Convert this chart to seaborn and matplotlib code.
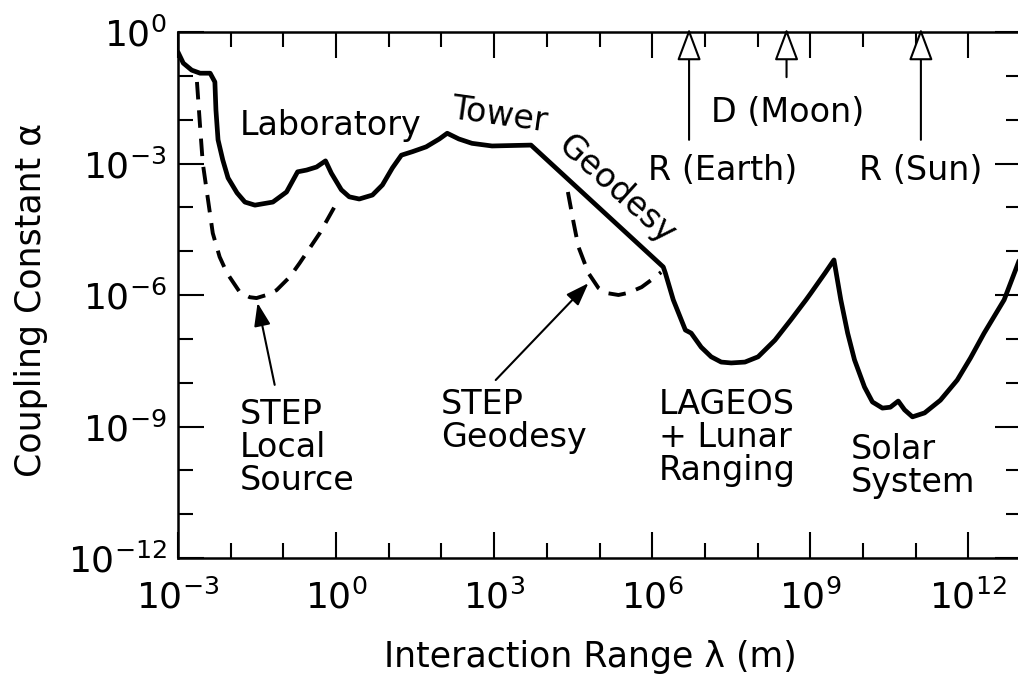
"""Coupling constant limits vs interaction range (log-log)."""

import matplotlib
matplotlib.use("Agg")
import matplotlib.pyplot as plt
import numpy as np
import seaborn as sns
from matplotlib.ticker import FixedLocator, FixedFormatter, NullFormatter

# --- data: log10(lambda / m) and log10(alpha) ---
solid_logx = [-3.00, -2.90, -2.74, -2.58, -2.39, -2.30, -2.28, -2.24, -2.15, -2.05,
              -1.88, -1.73, -1.54, -1.20, -0.94, -0.73, -0.56, -0.37, -0.20, -0.09,
              0.10, 0.25, 0.44, 0.69, 0.88, 1.07, 1.24, 1.45, 1.71, 1.96,
              2.11, 2.33, 2.58, 2.96, 3.70, 6.21, 6.25, 6.40, 6.63, 6.74,
              6.93, 7.12, 7.31, 7.50, 7.76, 8.01, 8.33, 8.63, 8.92, 9.01,
              9.28, 9.45, 9.58, 9.71, 9.84, 10.03, 10.18, 10.37, 10.52, 10.67,
              10.79, 10.94, 11.17, 11.47, 11.79, 12.04, 12.30, 12.68, 12.89, 13.00]
solid_logy = [-0.46, -0.71, -0.87, -0.94, -0.94, -1.14, -1.78, -2.46, -2.92, -3.33,
              -3.67, -3.88, -3.95, -3.88, -3.65, -3.19, -3.15, -3.08, -2.94, -3.22,
              -3.60, -3.76, -3.81, -3.72, -3.49, -3.10, -2.81, -2.73, -2.62, -2.44,
              -2.31, -2.44, -2.54, -2.60, -2.58, -5.36, -5.50, -6.11, -6.80, -6.87,
              -7.19, -7.41, -7.53, -7.55, -7.53, -7.41, -7.03, -6.57, -6.11, -5.96,
              -5.50, -5.20, -6.11, -6.87, -7.48, -8.10, -8.44, -8.58, -8.56, -8.42,
              -8.62, -8.78, -8.69, -8.40, -7.94, -7.44, -6.87, -6.11, -5.45, -5.10]

step_local_logx = [-2.64, -2.58, -2.53, -2.43, -2.34, -2.21, -2.07, -1.83, -1.64, -1.51,
                   -1.32, -1.13, -0.88, -0.69, -0.50, -0.31, -0.03]
step_local_logy = [-1.14, -2.17, -2.99, -3.83, -4.59, -5.13, -5.50, -5.93, -6.05, -6.07,
                   -6.00, -5.89, -5.59, -5.27, -4.93, -4.59, -3.99]

step_geo_logx = [4.40, 4.51, 4.60, 4.79, 4.98, 5.11, 5.36, 5.55, 5.80, 5.98, 6.17]
step_geo_logy = [-3.65, -4.36, -4.90, -5.50, -5.84, -5.95, -6.00, -5.95, -5.82, -5.66, -5.48]

# reference distances marked by open arrows on the top axis
ref_labels = ["R (Earth)", "D (Moon)", "R (Sun)"]
ref_logx = [6.70, 8.55, 11.10]

major_exp = [-3, 0, 3, 6, 9, 12]
y_major_exp = [-12, -9, -6, -3, 0]

# --- style ---
sns.set_theme(style="ticks")
plt.rcParams["font.family"] = ["DejaVu Sans"]
plt.rcParams["mathtext.fontset"] = "dejavusans"
plt.rcParams["text.color"] = "black"
plt.rcParams["axes.labelcolor"] = "black"

fig = plt.figure(figsize=(10.18, 6.74), dpi=100)
ax = fig.add_axes([178 / 1018, 116 / 674, 843 / 1018, 526 / 674])
ax.set_xscale("log")
ax.set_yscale("log")

sns.lineplot(x=10.0 ** np.array(solid_logx), y=10.0 ** np.array(solid_logy),
             ax=ax, color="black", linewidth=3.4, estimator=None, sort=False)
for lx, ly in [(step_local_logx, step_local_logy), (step_geo_logx, step_geo_logy)]:
    sns.lineplot(x=10.0 ** np.array(lx), y=10.0 ** np.array(ly), ax=ax,
                 color="black", linewidth=2.8, linestyle=(0, (4.5, 2.8)),
                 estimator=None, sort=False)

ax.set_xlim(1e-3, 1e13)
ax.set_ylim(1e-12, 1)

# ticks
ax.xaxis.set_major_locator(FixedLocator([10.0 ** e for e in major_exp]))
ax.xaxis.set_major_formatter(FixedFormatter([rf"$10^{{{e}}}$" for e in major_exp]))
ax.xaxis.set_minor_locator(FixedLocator([10.0 ** e for e in range(-3, 14)]))
ax.xaxis.set_minor_formatter(NullFormatter())
ax.yaxis.set_major_locator(FixedLocator([10.0 ** e for e in y_major_exp]))
ax.yaxis.set_major_formatter(FixedFormatter([rf"$10^{{{e}}}$" for e in y_major_exp]))
ax.yaxis.set_minor_locator(FixedLocator([10.0 ** e for e in range(-12, 1)]))
ax.yaxis.set_minor_formatter(NullFormatter())
ax.tick_params(which="both", direction="in", top=True, right=True,
               width=1.5, color="black", labelcolor="black", labelsize=26)
ax.tick_params(axis="x", pad=15)
ax.tick_params(axis="y", pad=8)
ax.tick_params(which="major", length=19)
ax.tick_params(which="minor", length=11)
for s in ax.spines.values():
    s.set_linewidth(1.8)
    s.set_color("black")

ax.set_xlabel("Interaction Range λ (m)", fontsize=25, color="black")
ax.set_ylabel("Coupling Constant α", fontsize=25, color="black")
ax.xaxis.set_label_coords(0.489, -0.155)
ax.yaxis.set_label_coords(-0.154, 0.49)

# region labels
txt = dict(fontsize=24, color="black")
ax.text(10 ** -1.83, 10 ** -2.35, "Laboratory", ha="left", va="baseline", **txt)
ax.text(10 ** 3.09, 10 ** -1.89, "Tower", ha="center", va="center", rotation=-8, **txt)
ax.text(10 ** 5.32, 10 ** -3.60, "Geodesy", ha="center", va="center",
        rotation=-42, rotation_mode="anchor", **txt)
ax.text(10 ** -1.83, 10 ** -8.35, "STEP\nLocal\nSource", ha="left", va="top",
        linespacing=1.0, **txt)
ax.text(10 ** 1.99, 10 ** -8.12, "STEP\nGeodesy", ha="left", va="top",
        linespacing=1.0, **txt)
ax.text(10 ** 6.12, 10 ** -8.12, "LAGEOS\n+ Lunar\nRanging", ha="left", va="top",
        linespacing=1.0, **txt)
ax.text(10 ** 9.77, 10 ** -9.15, "Solar\nSystem", ha="left", va="top",
        linespacing=1.0, **txt)

# filled arrows pointing at the STEP curves
filled = dict(arrowstyle="-|>,head_length=0.7,head_width=0.25", color="black",
              lw=1.5, mutation_scale=20, shrinkA=0, shrinkB=0)
ax.annotate("", xy=(10 ** -1.49, 10 ** -6.18), xytext=(10 ** -1.165, 10 ** -8.05),
            arrowprops=filled)
ax.annotate("", xy=(10 ** 4.79, 10 ** -5.73), xytext=(10 ** 3.03, 10 ** -7.94),
            arrowprops=filled)

# open arrows to the top axis for reference distances
open_head = dict(arrowstyle="-|>,head_length=0.8,head_width=0.3", fc="white",
                 ec="black", lw=1.5, mutation_scale=25, shrinkA=0, shrinkB=0)
label_y = [-3.15, -1.83, -3.15]
tail_y = [-2.46, -1.03, -2.46]
label_x = [7.33, 8.58, 11.09]
for name, lx, ty, tx, tyl in zip(ref_labels, ref_logx, tail_y, label_x, label_y):
    ax.annotate("", xy=(10 ** lx, 10 ** 0.08), xytext=(10 ** lx, 10 ** ty),
                arrowprops=open_head, annotation_clip=False)
    ax.text(10 ** tx, 10 ** tyl, name, ha="center", va="center", **txt)

fig.savefig("out.png", dpi=100)
